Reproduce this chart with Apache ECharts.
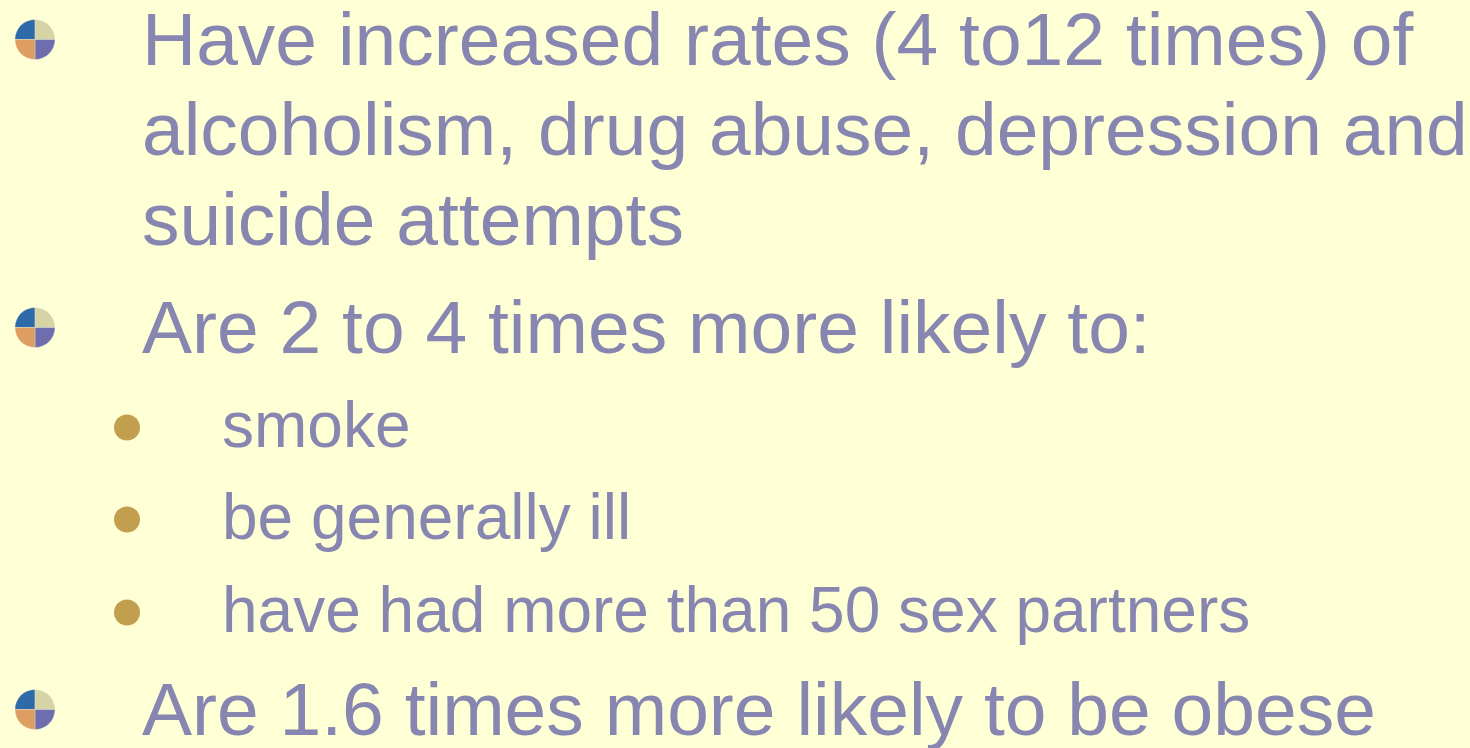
<!DOCTYPE html>
<html>
<head>
<meta charset="utf-8">
<script src="https://cdn.jsdelivr.net/npm/echarts@6/dist/echarts.min.js"></script>
<style>
html,body{margin:0;padding:0;background:#FFFFD5;}
#chart{width:1470px;height:748px;}
</style>
</head>
<body>
<div id="chart"></div>
<script>
// Slide content
var firstItemLines = ["Have increased rates (4 to12 times) of", "alcoholism, drug abuse, depression and", "suicide attempts"];
var secondItemLines = ["Are 2 to 4 times more likely to:"];
var subItems = ["smoke", "be generally ill", "have had more than 50 sex partners"];
var thirdItemLines = ["Are 1.6 times more likely to be obese"];

var TEXT_COLOR = '#8686B0';
var FONT = '"Liberation Sans", Arial, sans-serif';
var MAIN_FS = 75, SUB_FS = 64;
var MAIN_X = 142, SUB_X = 222;

// baselines (layout)
var mainBaselines1 = [65, 155, 245];
var mainBaselines2 = [353];
var subBaselines = [447, 539, 632];
var mainBaselines3 = [735];

var graphics = [];
function addText(str, x, baseline, fs) {
  graphics.push({
    type: 'text', x: x, y: baseline - fs * 0.28,
    style: { text: str, fill: TEXT_COLOR, font: fs + 'px ' + FONT, verticalAlign: 'middle', align: 'left' },
    silent: true
  });
}
function addIcon(cx, cy) {
  var r = 20;
  var q = [
    [Math.PI, Math.PI * 1.5, '#2F6AA8'],
    [Math.PI * 1.5, Math.PI * 2, '#D4D4A6'],
    [0, Math.PI * 0.5, '#6E6EAE'],
    [Math.PI * 0.5, Math.PI, '#DE9E62']
  ];
  q.forEach(function (s) {
    graphics.push({
      type: 'sector',
      shape: { cx: cx, cy: cy, r: r, r0: 0, startAngle: s[0], endAngle: s[1] },
      style: { fill: s[2], stroke: 'rgba(255,255,230,0.35)', lineWidth: 0.8 },
      silent: true
    });
  });
}
function addDot(cx, cy) {
  graphics.push({
    type: 'circle', shape: { cx: cx, cy: cy, r: 13 },
    style: { fill: '#C19F4E' }, silent: true
  });
}

firstItemLines.forEach(function (t, i) { addText(t, MAIN_X, mainBaselines1[i], MAIN_FS); });
addIcon(35, mainBaselines1[0] - 25.5);
secondItemLines.forEach(function (t, i) { addText(t, MAIN_X, mainBaselines2[i], MAIN_FS); });
addIcon(35, mainBaselines2[0] - 25.5);
subItems.forEach(function (t, i) {
  addText(t, SUB_X, subBaselines[i], SUB_FS);
  addDot(127, subBaselines[i] - 19.5);
});
thirdItemLines.forEach(function (t, i) { addText(t, MAIN_X, mainBaselines3[i], MAIN_FS); });
addIcon(35, mainBaselines3[0] - 25.5);

var chart = echarts.init(document.getElementById('chart'), null, { renderer: 'canvas' });
chart.setOption({
  backgroundColor: '#FFFFD5',
  animation: false,
  graphic: { elements: graphics }
});
</script>
</body>
</html>
